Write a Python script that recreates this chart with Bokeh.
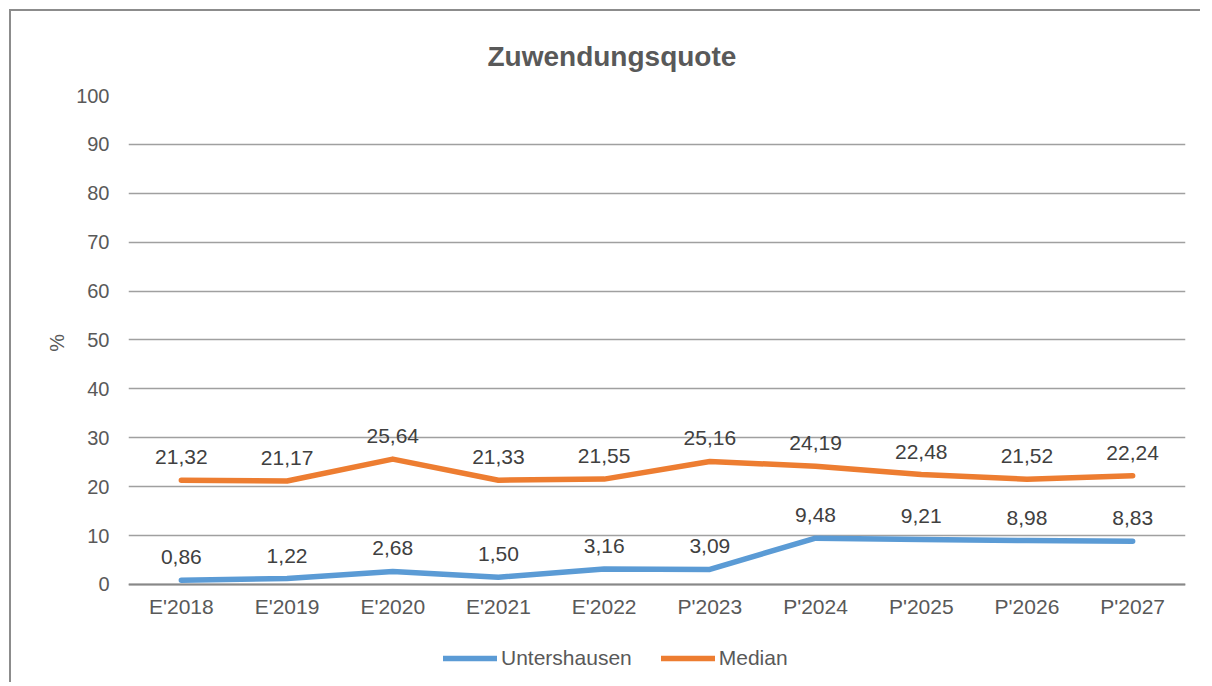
from bokeh.plotting import figure
from bokeh.models import Range1d, ColumnDataSource, Legend, LegendItem
from bokeh.embed import file_html
from bokeh.resources import INLINE

categories = ["E'2018", "E'2019", "E'2020", "E'2021", "E'2022",
              "P'2023", "P'2024", "P'2025", "P'2026", "P'2027"]
untershausen = [0.86, 1.22, 2.68, 1.50, 3.16, 3.09, 9.48, 9.21, 8.98, 8.83]
median = [21.32, 21.17, 25.64, 21.33, 21.55, 25.16, 24.19, 22.48, 21.52, 22.24]
y_ticks = [0, 10, 20, 30, 40, 50, 60, 70, 80, 90, 100]

FONT = "Liberation Sans"
GRAY = "#595959"
BLUE = "#5B9BD5"
ORANGE = "#ED7D31"

def fmt(v):
    return f"{v:.2f}".replace(".", ",")

p = figure(width=1191, height=673, x_range=categories, y_range=Range1d(-20.45, 100),
           output_backend="svg", toolbar_location=None,
           min_border_left=117, min_border_right=17, min_border_top=84,
           min_border_bottom=0, margin=(9, 0, 0, 9),
           styles={"border-left": "2px solid #8c8c8c", "border-top": "2px solid #8c8c8c"})
p.outline_line_color = None
p.background_fill_color = "white"
p.border_fill_color = "white"

p.title.text = "Zuwendungsquote"
p.title.text_font = FONT
p.title.text_font_size = "28px"
p.title.text_font_style = "bold"
p.title.text_color = GRAY
p.title.align = "left"
p.title.offset = 359
p.title.standoff = 47

# grid
p.xgrid.grid_line_color = None
p.ygrid.grid_line_color = "#a0a0a0"
p.ygrid.grid_line_width = 1.5
p.yaxis.ticker = y_ticks
p.yaxis.bounds = (0, 100)

# axes
p.yaxis.axis_line_color = None
p.yaxis.major_tick_line_color = None
p.yaxis.minor_tick_line_color = None
p.yaxis.major_label_text_font = FONT
p.yaxis.major_label_text_font_size = "20px"
p.yaxis.major_label_text_color = GRAY
p.yaxis.major_label_standoff = 13
# non-breaking spaces keep the rotated "%" centred on the 0-100 span
p.yaxis.axis_label = "\u00a0" * 17 + "%"
p.yaxis.axis_label_text_font = FONT
p.yaxis.axis_label_text_font_size = "20px"
p.yaxis.axis_label_text_font_style = "normal"
p.yaxis.axis_label_text_color = GRAY
p.yaxis.axis_label_standoff = 5

p.xaxis.fixed_location = 0
p.xaxis.axis_line_color = "#888888"
p.xaxis.axis_line_width = 2
p.xaxis.major_tick_line_color = None
p.xaxis.minor_tick_line_color = None
p.xaxis.major_label_text_font = FONT
p.xaxis.major_label_text_font_size = "21px"
p.xaxis.major_label_text_color = GRAY
p.xaxis.major_label_standoff = 5

src = ColumnDataSource(dict(x=categories, u=untershausen, m=median,
                            ul=[fmt(v) for v in untershausen],
                            ml=[fmt(v) for v in median]))

r1 = p.line("x", "u", source=src, line_color=BLUE, line_width=5.5,
            line_cap="round", line_join="round")
r2 = p.line("x", "m", source=src, line_color=ORANGE, line_width=5.5,
            line_cap="round", line_join="round")

for col, lab in (("u", "ul"), ("m", "ml")):
    p.text("x", col, text=lab, source=src, text_font={"value": FONT},
           text_font_size="21px", text_color="#404040", text_align="center",
           text_baseline="alphabetic", y_offset=-23)

legend = Legend(items=[LegendItem(label="Untershausen", renderers=[r1]),
                       LegendItem(label="Median", renderers=[r2])],
                orientation="horizontal", location=(315, 14),
                label_text_font=FONT, label_text_font_size="21px",
                label_text_color=GRAY, glyph_width=54, glyph_height=20,
                label_height=20, label_standoff=4, spacing=29, padding=0, margin=0,
                border_line_alpha=0, background_fill_alpha=0)
p.add_layout(legend, "center")

open("out.html", "w").write(file_html(p, INLINE))
